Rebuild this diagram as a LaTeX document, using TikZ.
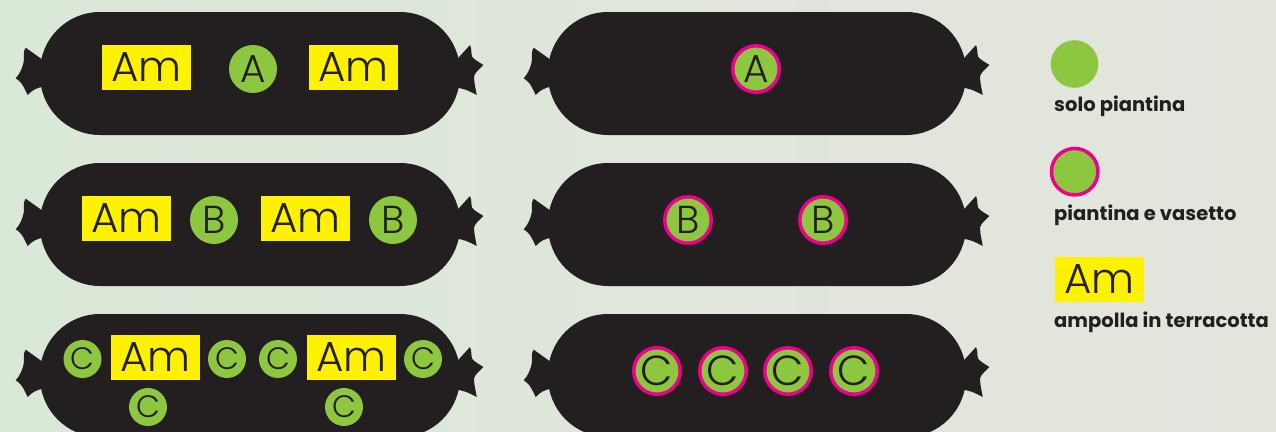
\documentclass[tikz,border=0pt]{standalone}
\usepackage{fontspec}
\setmainfont{Poppins}
\newfontfamily\lightfont{Poppins Light}
\definecolor{sausage}{HTML}{231F20}
\definecolor{amyellow}{HTML}{FFF200}
\definecolor{leaf}{HTML}{8DC63F}
\definecolor{vase}{HTML}{EC008C}
\definecolor{bgL}{HTML}{DAE8D7}
\definecolor{bgR}{HTML}{E4E4DD}
\newcommand\drawsausage[3]{%
  \fill[body, rounded corners=60pt] (#1,#3) rectangle (#2,{#3+123});
  \fill[body, shift={(#1,{#3+61.5})}] (5,-12) -- (-14.3,-25.8)
     .. controls (-17,-22) and (-16,-18) .. (-16,-14)
     .. controls (-17,-6) and (-20,0) .. (-24.3,4.8)
     .. controls (-19,8) and (-17,12) .. (-15,16)
     .. controls (-14,18) and (-13,20) .. (-12.3,21.5)
     .. controls (-8,17) and (-4,14) .. (5,13) -- cycle;
  \fill[body, shift={(#2,{#3+61.5})}] (-5,-12) -- (10,-28.5)
     .. controls (12,-24) and (11,-20) .. (12,-17)
     .. controls (15,-13) and (20,-11) .. (23.3,-8.5)
     .. controls (19,-4) and (15,-1) .. (14,3)
     .. controls (14,10) and (16,16) .. (16.7,21.5)
     .. controls (10,18) and (5,15) .. (-5,14) -- cycle;
}
\tikzset{
  body/.style={fill=sausage},
  ambox/.style={fill=amyellow, minimum width=89pt, minimum height=45pt, inner sep=0pt,
    font=\lightfont\fontsize{42}{42}\selectfont, text=sausage},
  plant/.style={circle, fill=leaf, minimum size=48pt, inner sep=0pt, text=sausage,
    font=\lightfont\fontsize{39}{39}\selectfont},
  smallplant/.style={plant, minimum size=38pt, font=\lightfont\fontsize{31}{31}\selectfont},
  potted/.style={plant, draw=vase, line width=3.5pt, minimum size=46.5pt},
  pottedc/.style={potted, font=\lightfont\fontsize{42}{42}\selectfont},
  legendtext/.style={anchor=base west, inner sep=0pt,
    font=\bfseries\fontsize{19.5}{19.5}\selectfont, text=sausage},
}
\begin{document}
\begin{tikzpicture}[x=1pt,y=-1pt]
\useasboundingbox (0,0) rectangle (1276,431);
\shade[left color=bgL, right color=bgR] (0,0) rectangle (1276,431);
\begin{scope}
\clip (0,0) rectangle (1276,431);
% left column
\drawsausage{40}{460}{12}
\drawsausage{40}{460}{163}
\drawsausage{40}{460}{314}
% right column
\drawsausage{548}{966}{12}
\drawsausage{548}{966}{163}
\drawsausage{548}{966}{314}
\end{scope}
% row 1 left
\node[ambox] (am11) at (146.5,67.5) {Am};
\node[plant] (a1) at (253,69) {A};
\node[ambox] (am12) at (353.5,67.5) {Am};
% row 2 left
\node[ambox] (am21) at (126.5,218.5) {Am};
\node[plant] (b1) at (214,220) {B};
\node[ambox] (am22) at (305.5,218.5) {Am};
\node[plant] (b2) at (393,220) {B};
% row 3 left
\node[smallplant] (c1) at (82.5,359) {C};
\node[ambox] (am31) at (155.5,357.5) {Am};
\node[smallplant] (c2) at (227,359) {C};
\node[smallplant] (c3) at (278,359) {C};
\node[ambox] (am32) at (351.5,357.5) {Am};
\node[smallplant] (c4) at (423,359) {C};
\node[smallplant] (c5) at (148,407) {C};
\node[smallplant] (c6) at (344,407) {C};
% right column
\node[potted] (pa) at (756,69) {A};
\node[potted] (pb1) at (688,220) {B};
\node[potted] (pb2) at (823,220) {B};
\node[pottedc] (pc1) at (657,371) {C};
\node[pottedc] (pc2) at (723,371) {C};
\node[pottedc] (pc3) at (788,371) {C};
\node[pottedc] (pc4) at (854,371) {C};
% legend
\node[plant, minimum size=47.6pt] (lg1) at (1074.5,64) {};
\node[legendtext] (lt1) at (1054,111.7) {solo piantina};
\node[potted] (lg2) at (1074.7,171.7) {};
\node[legendtext] (lt2) at (1054,220.7) {piantina e vasetto};
\node[ambox] (lg3) at (1099.5,279.5) {Am};
\node[legendtext] (lt3) at (1054,327) {ampolla in terracotta};
\end{tikzpicture}
\end{document}
